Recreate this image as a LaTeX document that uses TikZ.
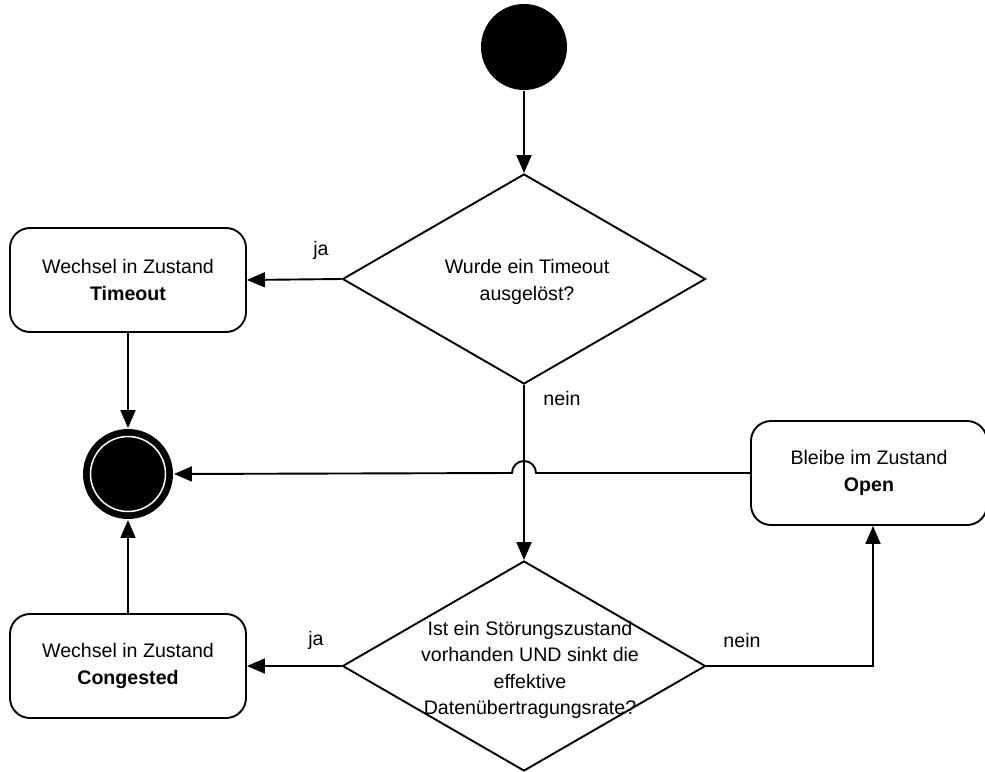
\documentclass[tikz,border=0pt]{standalone}
\usepackage{fontspec}
\setmainfont{Liberation Sans}
\usetikzlibrary{shapes.geometric,arrows.meta,calc}
\begin{document}
\begin{tikzpicture}[x=1pt,y=-1pt,
  font=\fontsize{19.6}{26.5}\selectfont,
  line width=1.9pt,
  arr/.style={-{Triangle[length=18pt,width=15pt]}},
  statebox/.style={draw,rounded corners=20pt,minimum width=236pt,minimum height=104pt,align=center,inner sep=0pt},
  decision/.style={draw,diamond,minimum width=363pt,minimum height=210pt,inner sep=0pt},
  qtext/.style={align=center,inner sep=0pt},
  lbl/.style={inner sep=0pt}]
\useasboundingbox (0,0) rectangle (985,771);

% start and end states
\node[circle,fill=black,minimum size=86pt,inner sep=0pt] (start) at (524,47) {};
\node[circle,fill=black,minimum size=90pt,inner sep=0pt] (end) at (128,474) {};
\draw[white,line width=1.5pt] (end.center) circle (37.5);

% decisions
\node[decision] (d1) at (524,279) {};
\node[qtext] (q1) at (527,282) {Wurde ein Timeout\\ausgelöst?};
\node[decision] (d2) at (524,666) {};
\node[qtext] (q2) at (530,670) {Ist ein Störungszustand\\vorhanden UND sinkt die\\effektive\\Datenübertragungsrate?};

% states
\node[statebox] (timeout) at (128,280) {Wechsel in Zustand\\\textbf{Timeout}};
\node[statebox] (congested) at (128,666) {Wechsel in Zustand\\\textbf{Congested}};
\node[statebox] (open) at (869,473) {Bleibe im Zustand\\\textbf{Open}};

% transitions
\draw[arr] (start) -- (d1.north);
\draw[arr] (d1.west) -- (timeout.east);
\draw[arr] (timeout.south) -- (end.north);
\draw[arr] (d1.south) -- (d2.north);
\draw[arr] (d2.west) -- (congested.east);
\draw[arr] (congested.north) -- (end.south);
\coordinate (openin) at ($(open.south)+(4,0)$);
\draw[arr] (d2.east) -| (openin);
\coordinate (jump) at (536,473);
\draw[arr] (open.west) -- (jump) arc[start angle=0,end angle=-180,radius=12] -- (end.east);

% branch labels
\node[lbl] (ja1) at (321,250) {ja};
\node[lbl] (nein1) at (562,398) {nein};
\node[lbl] (ja2) at (316,640) {ja};
\node[lbl] (nein2) at (742,640) {nein};
\end{tikzpicture}
\end{document}
